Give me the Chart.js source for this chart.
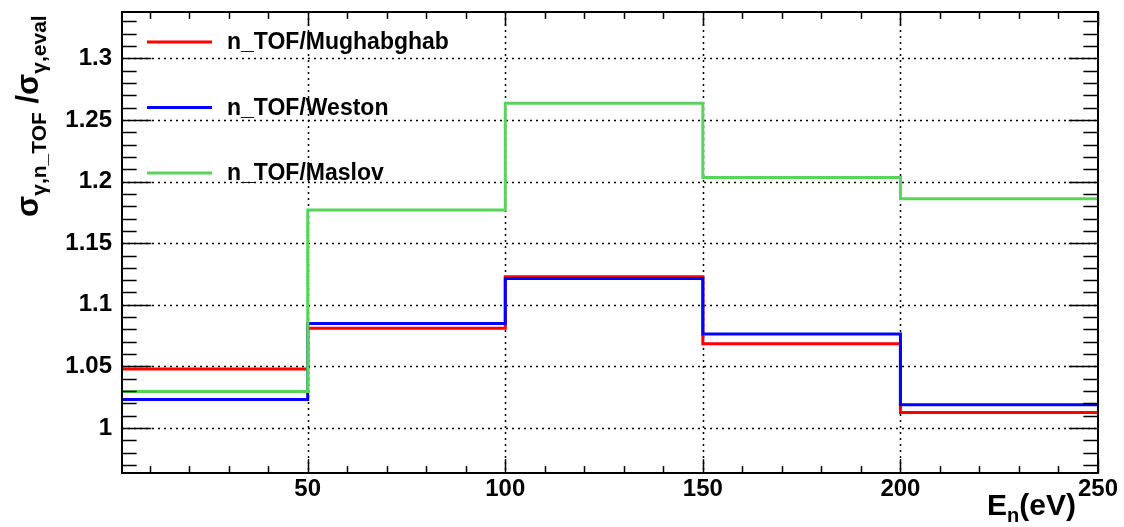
<!DOCTYPE html>
<html lang="en">
<head>
<meta charset="UTF-8">
<title>n_TOF capture ratio</title>
<script src="https://cdn.jsdelivr.net/npm/chart.js"></script>
<style>
  body { margin: 0; background: #fff; }
  #wrap { width: 1124px; height: 527px; }
</style>
</head>
<body>
<div id="wrap"><canvas id="myChart"></canvas></div>
<script>
// bin edges (eV) and ratio per bin
const binEdges = [3, 50, 100, 150, 200, 250];
const mughabghab = [1.0479, 1.0809, 1.1227, 1.0684, 1.0127];
const weston = [1.0233, 1.0849, 1.1213, 1.0763, 1.019];
const maslov = [1.0297, 1.177, 1.2635, 1.2032, 1.186];
const seriesNames = ['n_TOF/Mughabghab', 'n_TOF/Weston', 'n_TOF/Maslov'];
const seriesColors = ['#ff0000', '#0000ff', '#5ad35a'];
const xTicks = [50, 100, 150, 200, 250];
const yTicks = [1, 1.05, 1.1, 1.15, 1.2, 1.25, 1.3];

const FONT = 'Liberation Sans, Arial, Helvetica, sans-serif';

// histogram -> stepped points (last value held to the upper edge)
function steps(vals) {
  const pts = vals.map((v, i) => ({ x: binEdges[i], y: v }));
  pts.push({ x: binEdges[binEdges.length - 1], y: vals[vals.length - 1] });
  return pts;
}

const allSeries = [mughabghab, weston, maslov];
const datasets = allSeries.map((s, i) => ({
  label: seriesNames[i],
  data: steps(s),
  borderColor: seriesColors[i],
  borderWidth: 3,
  pointRadius: 0,
  stepped: 'before',
  fill: false,
  order: allSeries.length - i   // later series drawn on top
}));

function line(ctx, x1, y1, x2, y2) {
  ctx.beginPath(); ctx.moveTo(x1, y1); ctx.lineTo(x2, y2); ctx.stroke();
}

// ROOT-like frame: dotted grid, inner ticks, legend, axis titles
const rootFrame = {
  id: 'rootFrame',
  beforeDatasetsDraw(chart) {
    const { ctx, chartArea: a, scales: { x, y } } = chart;
    ctx.save();
    ctx.strokeStyle = '#000';
    ctx.lineWidth = 1.5;
    ctx.setLineDash([2, 4]);
    x.ticks.forEach(t => {
      if (t.value >= x.max) return;
      const px = Math.round(x.getPixelForValue(t.value)) + 0.5;
      line(ctx, px, a.top, px, a.bottom);
    });
    y.ticks.forEach(t => {
      const py = Math.round(y.getPixelForValue(t.value)) + 0.5;
      line(ctx, a.left, py, a.right, py);
    });
    ctx.restore();
  },
  afterDatasetsDraw(chart) {
    const { ctx, chartArea: a, scales: { x, y } } = chart;
    ctx.save();
    ctx.strokeStyle = '#000';
    ctx.lineWidth = 1.5;
    // x ticks, every 10 eV, major at labels
    const xMaj = a.bottom - a.top;
    for (let k = Math.ceil(x.min / 10); k * 10 <= x.max; k++) {
      const major = k % 5 === 0;
      const len = (major ? 0.03 : 0.015) * xMaj;
      const px = Math.round(x.getPixelForValue(k * 10)) + 0.5;
      line(ctx, px, a.bottom, px, a.bottom - len);
      line(ctx, px, a.top, px, a.top + len);
    }
    // y ticks, every 0.01
    const yMaj = a.right - a.left;
    for (let k = Math.ceil(y.min * 100); k <= Math.floor(y.max * 100); k++) {
      const major = k % 5 === 0;
      const len = (major ? 0.03 : 0.015) * yMaj;
      const py = Math.round(y.getPixelForValue(k / 100)) + 0.5;
      line(ctx, a.left, py, a.left + len, py);
      line(ctx, a.right, py, a.right - len, py);
    }
    // frame
    ctx.lineWidth = 2;
    ctx.strokeRect(a.left, a.top, a.right - a.left, a.bottom - a.top);

    // legend
    ctx.font = 'bold 23px ' + FONT;
    ctx.textBaseline = 'middle';
    ctx.textAlign = 'left';
    chart.data.datasets.forEach((ds, i) => {
      const ly = 42 + i * 65.5;
      ctx.strokeStyle = ds.borderColor;
      ctx.lineWidth = 3;
      line(ctx, 147, ly, 212, ly);
      ctx.fillStyle = '#000';
      ctx.fillText(ds.label, 227, ly + 1);
    });
    ctx.restore();

    // x title: E_n(eV), right aligned
    ctx.save();
    ctx.fillStyle = '#000';
    ctx.textBaseline = 'alphabetic';
    const xParts = [['E', 30, 0], ['n', 20, 7], ['(eV)', 30, 0]];
    let w = 0;
    xParts.forEach(p => { ctx.font = 'bold ' + p[1] + 'px ' + FONT; w += ctx.measureText(p[0]).width; });
    let cx = 1076 - w;
    xParts.forEach(p => {
      ctx.font = 'bold ' + p[1] + 'px ' + FONT;
      ctx.fillText(p[0], cx, 515 + p[2]);
      cx += ctx.measureText(p[0]).width;
    });
    ctx.restore();

    // y title: sigma_{gamma,n_TOF} / sigma_{gamma,eval}, rotated
    ctx.save();
    ctx.fillStyle = '#000';
    ctx.translate(38, 217);
    ctx.rotate(-Math.PI / 2);
    const yParts = [['σ', 31, 0], ['γ,n_TOF', 21, 8], [' /', 31, 0], ['σ', 31, 0], ['γ,eval', 21, 8]];
    let ty = 0;
    yParts.forEach(p => {
      ctx.font = 'bold ' + p[1] + 'px ' + FONT;
      ctx.fillText(p[0], ty, p[2]);
      ty += ctx.measureText(p[0]).width;
    });
    ctx.restore();
  }
};

const tickFont = { family: FONT, size: 24, weight: 'bold' };

const config = {
  type: 'line',
  data: { datasets: datasets },
  options: {
    responsive: true,
    maintainAspectRatio: false,
    animation: false,
    layout: { padding: { top: 12, right: 26, left: 0, bottom: 0 } },
    plugins: { legend: { display: false }, tooltip: { enabled: false } },
    scales: {
      x: {
        type: 'linear',
        min: 3,
        max: 250,
        afterBuildTicks: s => { s.ticks = xTicks.map(v => ({ value: v })); },
        afterFit: s => { s.height = 54; s.paddingLeft = 0; s.paddingRight = 0; },
        grid: { display: false, drawTicks: false },
        border: { display: false },
        ticks: {
          font: tickFont, color: '#000', padding: 2,
          maxRotation: 0, autoSkip: false,
          callback: v => String(v)
        }
      },
      y: {
        type: 'linear',
        min: 0.9636,
        max: 1.3375,
        afterBuildTicks: s => { s.ticks = yTicks.map(v => ({ value: v })); },
        afterFit: s => { s.width = 122; s.paddingTop = 0; s.paddingBottom = 0; },
        grid: { display: false, drawTicks: false },
        border: { display: false },
        ticks: {
          font: tickFont, color: '#000', padding: 10,
          autoSkip: false,
          callback: v => String(+v.toFixed(2))
        }
      }
    }
  },
  plugins: [rootFrame]
};

let myChart = new Chart(document.querySelector('#myChart'), config);
</script>
</body>
</html>
